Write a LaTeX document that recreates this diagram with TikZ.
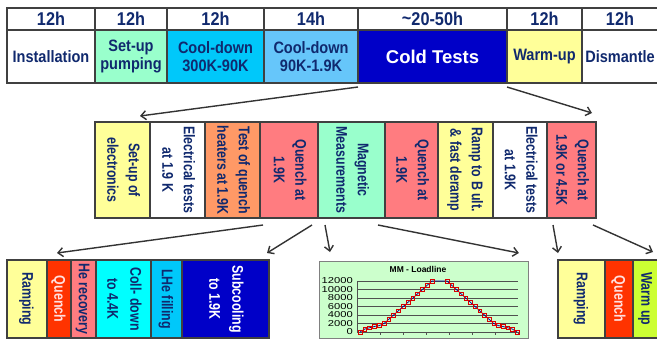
\documentclass[tikz,border=0pt]{standalone}
\usepackage{graphicx}
\usepackage{fontspec}
\setmainfont{Liberation Sans}
\newfontfamily\lab[FakeStretch=0.88]{Liberation Sans}
\newfontfamily\vlab[FakeStretch=0.8]{Liberation Sans}
\newfontfamily\ticklab[FakeStretch=1.3]{Liberation Sans}
\usetikzlibrary{arrows.meta,plotmarks}

\definecolor{ink}{HTML}{10296E}
\definecolor{frame}{HTML}{404040}
\definecolor{arrcol}{HTML}{333333}
\definecolor{yel}{HTML}{FFFF99}
\definecolor{mint}{HTML}{99FFCC}
\definecolor{skyA}{HTML}{00C8FA}
\definecolor{skyB}{HTML}{66C6FA}
\definecolor{deep}{HTML}{0000C8}
\definecolor{orng}{HTML}{FF9966}
\definecolor{salmon}{HTML}{FF7C80}
\definecolor{redq}{HTML}{FF3300}
\definecolor{pinktext}{HTML}{FFE0E0}
\definecolor{cyanf}{HTML}{00FFFF}
\definecolor{lime}{HTML}{CCFF33}
\definecolor{chartbg}{HTML}{CCFFCC}
\definecolor{gridcol}{HTML}{505050}

% vertical (top-to-bottom) multi-line label
\newcommand\vtext[1]{\rotatebox{-90}{\begin{tabular}{@{}c@{}}#1\end{tabular}}}

\tikzset{
  box/.style={draw=frame, line width=1.3pt, anchor=north west, inner sep=0pt,
              outer sep=0pt, text=ink, align=center},
  hdrcell/.style={box, fill=white, minimum height=22pt,
                  font=\lab\bfseries\fontsize{18.5}{20}\selectfont},
  topcell/.style={box, minimum height=53pt,
                  font=\lab\bfseries\fontsize{16.5}{18}\selectfont},
  midcell/.style={box, minimum height=96pt,
                  font=\vlab\bfseries\fontsize{15.5}{21.5}\selectfont},
  lowcell/.style={box, minimum height=78pt,
                  font=\vlab\bfseries\fontsize{15.5}{23}\selectfont},
  arr/.style={draw=arrcol, line width=1.4pt,
              -{Straight Barb[length=5pt,width=9pt]}},
}

\begin{document}
\begin{tikzpicture}[x=1pt,y=-1pt]
\useasboundingbox (0,0) rectangle (657,341);
\fill[white] (0,0) rectangle (657,341);

% ---- schedule table: durations
\node[hdrcell, minimum width=88pt]  (h1) at (7,8)   {12h};
\node[hdrcell, minimum width=72pt]  (h2) at (95,8)  {12h};
\node[hdrcell, minimum width=97pt]  (h3) at (167,8) {12h};
\node[hdrcell, minimum width=94pt]  (h4) at (264,8) {14h};
\node[hdrcell, minimum width=149pt] (h5) at (358,8) {\raisebox{1pt}{\textasciitilde}20-50h};
\node[hdrcell, minimum width=75pt]  (h6) at (507,8) {12h};
\node[hdrcell, minimum width=76pt]  (h7) at (582,8) {12h};

% ---- schedule table: phases
\node[topcell, fill=white, minimum width=88pt] (inst) at (7,30)  {Installation};
\node[topcell, fill=mint,  minimum width=72pt] (pump) at (95,30) {Set-up\\pumping};
\node[topcell, fill=skyA,  minimum width=97pt] (cdA)  at (167,30) {Cool-down\\300K-90K};
\node[topcell, fill=skyB,  minimum width=94pt] (cdB)  at (264,30) {Cool-down\\90K-1.9K};
\node[topcell, fill=deep,  minimum width=149pt, text=white,
      font=\bfseries\fontsize{18.5}{20}\selectfont] (cold) at (358,30) {Cold Tests};
\node[topcell, fill=yel,   minimum width=75pt] (warm) at (507,30) {Warm-up};
\node[topcell, fill=white, minimum width=76pt] (dism) at (582,30) {Dismantle};

% ---- cold test sequence
\node[midcell, fill=yel,    minimum width=55pt] (sue)  at (95,122)  {\vtext{Set-up of\\electronics}};
\node[midcell, fill=white,  minimum width=55pt] (el1)  at (150,122) {\vtext{Electrical tests\\at 1.9 K}};
\node[midcell, fill=orng,   minimum width=55pt] (tqh)  at (205,122) {\vtext{Test of quench\\heaters at 1.9K}};
\node[midcell, fill=salmon, minimum width=58pt] (q1)   at (260,122) {\vtext{Quench at\\1.9K}};
\node[midcell, fill=mint,   minimum width=67pt] (mm)   at (318,122) {\vtext{Magnetic\\Measurements}};
\node[midcell, fill=salmon, minimum width=53pt] (q2)   at (385,122) {\vtext{Quench at\\1.9K}};
\node[midcell, fill=yel,    minimum width=55pt] (rmp)  at (438,122) {\vtext{Ramp to B ult.\\\& fast deramp}};
\node[midcell, fill=white,  minimum width=54pt] (el2)  at (493,122) {\vtext{Electrical tests\\at 1.9K}};
\node[midcell, fill=salmon, minimum width=49pt] (q45)  at (547,122) {\vtext{Quench at\\1.9K or 4.5K}};

% ---- quench cycle
\node[lowcell, fill=yel,    minimum width=40pt] (r1)  at (7,260)   {\vtext{Ramping}};
\node[lowcell, fill=redq,   minimum width=24pt, text=pinktext] (qn1) at (47,260) {\vtext{Quench}};
\node[lowcell, fill=salmon, minimum width=25pt] (he)  at (71,260)  {\vtext{He recovery}};
\node[lowcell, fill=cyanf,  minimum width=55pt] (cd)  at (96,260)  {\vtext{Coll- down\\to 4.4K}};
\node[lowcell, fill=skyA,   minimum width=31pt] (lhe) at (151,260) {\vtext{LHe filling}};
\node[lowcell, fill=deep,   minimum width=87pt, text=white] (sub) at (182,260) {\vtext{Subcooling\\to 1.9K}};

% ---- final quench sequence
\node[lowcell, fill=yel,  minimum width=47pt] (r2)  at (558,260) {\vtext{Ramping}};
\node[lowcell, fill=redq, minimum width=28pt, text=pinktext] (qn2) at (605,260) {\vtext{Quench}};
\node[lowcell, fill=lime, minimum width=26pt] (wu)  at (633,260) {\vtext{Warm up}};

% ---- load line chart
\node[draw=gray, fill=chartbg, line width=0.9pt, anchor=north west, inner sep=0pt,
      minimum width=209pt, minimum height=77pt] (chart) at (319,261) {};
\node[font=\bfseries\fontsize{8.5}{9}\selectfont] (ctitle) at (418,269.5) {MM - Loadline};
\foreach \v in {0,2000,4000,6000,8000,10000,12000} {
  \draw[gridcol, line width=0.7pt] (357,{332-\v/12000*51}) -- (518,{332-\v/12000*51});
  \node[anchor=east, inner sep=0pt, font=\ticklab\fontsize{8.6}{8.6}\selectfont] (yl\v)
       at (353,{332-\v/12000*51}) {\v};
}
\draw[gridcol, line width=0.7pt] (357,281) -- (357,332);
\foreach \x in {380,403,426,449,472,495,518}
  \draw[gridcol, line width=0.6pt] (\x,332) -- (\x,335);
\draw[blue!60!black, line width=0.7pt]
  plot[mark=square, mark size=1.9pt, mark options={draw=red!85!black, line width=0.55pt}]
  coordinates {(360,332) (364.8,329) (369.6,327.75) (374.4,326.5) (379.2,325.6)
    (384,323.5) (388.8,319.25) (393.6,315) (398.4,310.75) (403.2,306.5) (408,302.25)
    (412.8,298) (417.6,293.75) (422.4,289.5) (427.2,285.25) (432,281)
    (447,281) (451.7,285.25) (456.3,289.5) (461,293.75) (465.7,298) (470.3,302.25)
    (475,306.5) (479.7,310.75) (484.3,315) (489,319.25) (493.7,323.5) (498.3,325.6)
    (503,326.5) (507.7,327.75) (512.3,329) (517,332)};

% ---- connectors
\draw[arr] ([yshift=-4pt]cold.south west) -- ([xshift=-10pt,yshift=6pt]sue.north east);
\draw[arr] ([yshift=-4pt]cold.south east) -- ([xshift=-4pt,yshift=9pt]q45.north east);
\draw[arr] ([xshift=3pt,yshift=-7pt]q1.south west) -- ([xshift=10pt,yshift=7pt]qn1.north west);
\draw[arr] ([xshift=-6pt,yshift=-7pt]q1.south east) -- ([xshift=-2pt,yshift=7pt]sub.north east);
\draw[arr] ([xshift=7pt,yshift=-7pt]mm.south west) -- ([xshift=11pt,yshift=9pt]chart.north west);
\draw[arr] ([xshift=-7pt,yshift=-7pt]mm.south east) -- ([xshift=-10pt,yshift=8pt]chart.north east);
\draw[arr] ([xshift=6pt,yshift=-7pt]q45.south west) -- ([yshift=7pt]r2.north west);
\draw[arr] ([xshift=-3pt,yshift=-7pt]q45.south east) -- ([xshift=7pt,yshift=8pt]wu.north);
\end{tikzpicture}
\end{document}
